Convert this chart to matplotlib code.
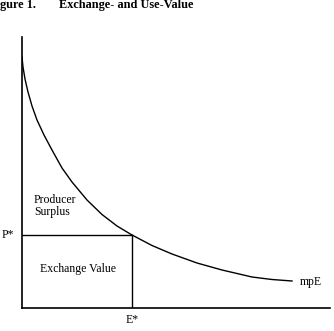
import matplotlib
matplotlib.use("Agg")
import matplotlib.pyplot as plt

# mpE curve (axis units = pixels from the origin)
curve_x = [0, 1, 3, 6, 10, 15, 22, 30, 40, 50, 65, 80, 95, 110,
           130, 150, 175, 200, 230, 250, 270]
curve_y = [251, 241, 229, 216, 202, 188, 173, 158, 140, 126, 108, 93.5, 82, 73,
           62.5, 54, 45, 38, 31, 28.5, 27]

# equilibrium point
e_star = 110
p_star = 73

plt.rcParams['font.family'] = ['Liberation Serif', 'DejaVu Serif']

fig = plt.figure(figsize=(3.34, 3.31), dpi=100)
ax = fig.add_axes([22 / 334, 23 / 331, 308 / 334, 271 / 331])
ax.set_xlim(0, 308)
ax.set_ylim(0, 271)

ax.plot(curve_x, curve_y, color='black', lw=1.0, solid_joinstyle='round')
ax.plot([0, e_star], [p_star, p_star], color='black', lw=1.0)
ax.plot([e_star, e_star], [0, p_star], color='black', lw=1.0)

for s in ['top', 'right']:
    ax.spines[s].set_visible(False)
for s in ['left', 'bottom']:
    ax.spines[s].set_linewidth(1.2)
ax.set_xticks([])
ax.set_yticks([])

ax.text(12, 102, 'Producer\nSurplus', fontsize=8.5, ha='left', va='center', linespacing=1.0)
ax.text(56, 39, 'Exchange Value', fontsize=8.5, ha='center', va='center')
ax.text(278, 26, 'mpE', fontsize=8.5, ha='left', va='center')
ax.text(e_star, -12, 'E*', fontsize=8.5, ha='center', va='center')
ax.text(-8, p_star, 'P*', fontsize=8.5, ha='right', va='center')

fig.text(0, 1 - 5 / 331, 'gure 1.', fontsize=8.8, fontweight='bold', ha='left', va='center')
fig.text(59 / 334, 1 - 5 / 331, 'Exchange- and Use-Value', fontsize=8.8, fontweight='bold', ha='left', va='center')

fig.savefig('out.png', dpi=100)
